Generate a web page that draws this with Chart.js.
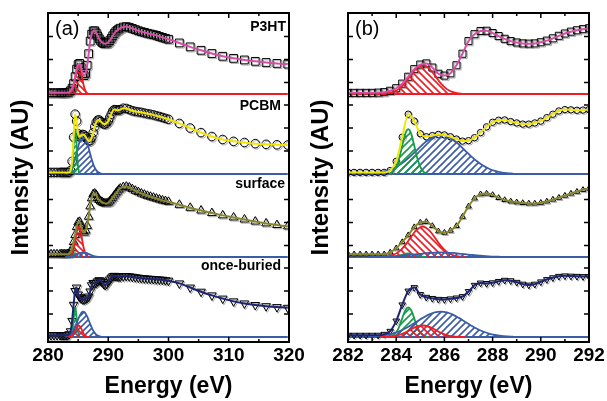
<!DOCTYPE html>
<html>
<head>
<meta charset="utf-8">
<script src="https://cdn.jsdelivr.net/npm/chart.js@4.4.0/dist/chart.umd.min.js"></script>
<style>
  html, body { margin: 0; padding: 0; background: #fff; }
  #wrap { position: relative; width: 607px; height: 401px; overflow: hidden; }
  canvas { position: absolute; top: 0; }
  #chartA { left: 0; }
  #chartB { left: 305px; }
</style>
</head>
<body>
<div id="wrap">
  <canvas id="chartA" width="305" height="401"></canvas>
  <canvas id="chartB" width="302" height="401"></canvas>
</div>
<script>
// photon energy (eV) of the measured points
var energy = [280, 280.5, 281, 281.5,
  282, 282.25, 282.5, 282.75, 283, 283.25, 283.5, 283.75, 284, 284.25, 284.5, 284.75,
  285, 285.25, 285.5, 285.75, 286, 286.25, 286.5, 286.75, 287, 287.25, 287.5, 287.75,
  288, 288.25, 288.5, 288.75, 289, 289.25, 289.5, 289.75, 290, 290.25, 290.5, 290.75,
  291, 291.25, 291.5, 291.75, 292,
  292.5, 293, 293.5, 294, 294.5, 295, 295.5, 296, 296.5, 297, 297.5, 298, 298.5, 299, 299.5, 300,
  301.8, 303.6, 305.4, 307.2, 309, 310.8, 312.6, 314.4, 316.2, 318, 319.8];

// NEXAFS intensity (AU), one list per film
var p3ht = [0.05, 0.05, 0.05, 0.05,
  0.05, 0.05, 0.05, 0.05, 0.05, 0.06, 0.08, 0.14, 0.25, 0.45, 0.75, 1.08,
  1.28, 1.33, 1.15, 0.88, 0.8, 0.9, 1.25, 1.75, 2.3, 2.6, 2.74, 2.75,
  2.65, 2.52, 2.4, 2.3, 2.24, 2.2, 2.19, 2.2, 2.25, 2.32, 2.42, 2.53,
  2.63, 2.71, 2.77, 2.82, 2.86,
  2.91, 2.93, 2.9, 2.85, 2.8, 2.75, 2.71, 2.68, 2.64, 2.61, 2.58, 2.55, 2.5, 2.46, 2.42, 2.38,
  2.22, 2.05, 1.9, 1.76, 1.64, 1.55, 1.48, 1.42, 1.37, 1.33, 1.3];
var pcbm = [0.07, 0.07, 0.07, 0.07,
  0.07, 0.07, 0.07, 0.07, 0.07, 0.07, 0.07, 0.15, 0.55, 1.6, 2.6, 2.3,
  1.75, 1.62, 1.67, 1.72, 1.7, 1.62, 1.52, 1.43, 1.45, 1.58, 1.8, 2.05,
  2.25, 2.34, 2.35, 2.28, 2.22, 2.17, 2.17, 2.22, 2.3, 2.45, 2.6, 2.74,
  2.8, 2.79, 2.77, 2.78, 2.8,
  2.86, 2.85, 2.8, 2.75, 2.72, 2.7, 2.68, 2.65, 2.62, 2.6, 2.57, 2.53, 2.5, 2.46, 2.42, 2.38,
  2.2, 2.0, 1.8, 1.63, 1.5, 1.42, 1.37, 1.32, 1.29, 1.27, 1.26];
var surface = [0.12, 0.12, 0.12, 0.12,
  0.12, 0.12, 0.12, 0.12, 0.12, 0.12, 0.12, 0.2, 0.38, 0.65, 0.95, 1.3,
  1.5, 1.53, 1.35, 1.12, 1.06, 1.15, 1.35, 1.75, 2.2, 2.55, 2.73, 2.76,
  2.7, 2.57, 2.48, 2.42, 2.38, 2.35, 2.33, 2.33, 2.36, 2.42, 2.5, 2.58,
  2.67, 2.76, 2.84, 2.92, 2.98,
  3.04, 3.06, 3.02, 2.95, 2.88, 2.82, 2.76, 2.71, 2.66, 2.62, 2.58, 2.54, 2.5, 2.46, 2.43, 2.4,
  2.27, 2.14, 2.02, 1.91, 1.81, 1.72, 1.63, 1.54, 1.46, 1.39, 1.33];
var buried = [0.08, 0.08, 0.08, 0.08,
  0.08, 0.08, 0.08, 0.08, 0.08, 0.08, 0.12, 0.25, 0.7, 1.4, 2.0, 2.15,
  1.85, 1.73, 1.68, 1.64, 1.63, 1.66, 1.7, 1.76, 1.98, 2.25, 2.35, 2.33,
  2.36, 2.42, 2.47, 2.45, 2.38, 2.3, 2.26, 2.3, 2.4, 2.5, 2.58, 2.64,
  2.66, 2.65, 2.64, 2.63, 2.63,
  2.64, 2.65, 2.64, 2.62, 2.6, 2.58, 2.56, 2.55, 2.54, 2.53, 2.52, 2.51, 2.5, 2.49, 2.47, 2.45,
  2.33, 2.15, 1.97, 1.81, 1.67, 1.55, 1.46, 1.39, 1.34, 1.3, 1.27];

// fitted peaks: energies and heights
var redEnergy = [283.35, 283.6, 283.85, 284.1, 284.35, 284.6, 284.85, 285.1, 285.35, 285.6, 285.85, 286.1, 286.35, 286.6, 286.85];
var greenEnergy = [283.7, 283.8, 283.9, 284, 284.1, 284.2, 284.3, 284.4, 284.5, 284.6, 284.7, 284.8, 284.9, 285, 285.1, 285.2, 285.3];
var blueEnergy = [282.85, 283.1, 283.35, 283.6, 283.85, 284.1, 284.35, 284.6, 284.85, 285.1, 285.35, 285.6, 285.85,
  286.1, 286.35, 286.6, 286.85, 287.1, 287.35, 287.6, 287.85, 288.1, 288.35, 288.6, 288.85];

var p3htRed = [0.005, 0.023, 0.078, 0.213, 0.463, 0.808, 1.128, 1.26, 1.128, 0.808, 0.463, 0.213, 0.078, 0.023, 0.005];
var pcbmGreen = [0.017, 0.052, 0.136, 0.306, 0.597, 1.0, 1.45, 1.81, 1.95, 1.81, 1.45, 1.0, 0.597, 0.306, 0.136, 0.052, 0.017];
var pcbmBlue = [0.019, 0.039, 0.075, 0.135, 0.23, 0.367, 0.552, 0.779, 1.031, 1.284, 1.5, 1.647, 1.7,
  1.647, 1.5, 1.284, 1.031, 0.779, 0.552, 0.367, 0.23, 0.135, 0.075, 0.039, 0.019];
var surfaceRed = [0.006, 0.024, 0.082, 0.223, 0.485, 0.846, 1.181, 1.32, 1.181, 0.846, 0.485, 0.223, 0.082, 0.024, 0.006];
var surfaceGreen = [0.001, 0.004, 0.011, 0.025, 0.049, 0.082, 0.119, 0.149, 0.16, 0.149, 0.119, 0.082, 0.049, 0.025, 0.011, 0.004, 0.001];
var surfaceBlue = [0.002, 0.005, 0.009, 0.016, 0.027, 0.043, 0.065, 0.092, 0.121, 0.151, 0.176, 0.194, 0.2,
  0.194, 0.176, 0.151, 0.121, 0.092, 0.065, 0.043, 0.027, 0.016, 0.009, 0.005, 0.002];
var buriedRed = [0.002, 0.009, 0.031, 0.085, 0.184, 0.321, 0.448, 0.5, 0.448, 0.321, 0.184, 0.085, 0.031, 0.009, 0.002];
var buriedGreen = [0.011, 0.034, 0.09, 0.2, 0.39, 0.66, 0.96, 1.2, 1.29, 1.2, 0.96, 0.66, 0.39, 0.2, 0.09, 0.034, 0.011];
var buriedBlue = [0.012, 0.025, 0.048, 0.088, 0.149, 0.238, 0.357, 0.504, 0.667, 0.831, 0.971, 1.066, 1.1,
  1.066, 0.971, 0.831, 0.667, 0.504, 0.357, 0.238, 0.149, 0.088, 0.048, 0.025, 0.012];

var sampleNames = ['P3HT', 'PCBM', 'surface', 'once-buried'];
var sampleTicks = [[0.5, 1.5, 2.5], [1, 2, 3], [0.5, 1.5, 2.5], [1, 2, 3]];

var RED = '#ee1c24', BLUE = '#3b5ca8', GREEN = '#169c4a';

var sampleValues = [p3ht, pcbm, surface, buried];
var fitColors = ['#d64fa6', '#f2e600', '#86862a', '#1c2473'];
var baseColors = [RED, BLUE, BLUE, BLUE];
var markerStyles = ['rect', 'circle', 'triangle', 'triangle'];
var markerRotation = [0, 0, 0, 180];
var samplePeaks = [
  [[redEnergy, p3htRed, RED, '\\']],
  [[greenEnergy, pcbmGreen, GREEN, '/'], [blueEnergy, pcbmBlue, BLUE, '/']],
  [[blueEnergy, surfaceBlue, BLUE, '/'], [greenEnergy, surfaceGreen, GREEN, '/'], [redEnergy, surfaceRed, RED, '\\']],
  [[redEnergy, buriedRed, RED, '\\'], [blueEnergy, buriedBlue, BLUE, '/'], [greenEnergy, buriedGreen, GREEN, '/']]
];

// each sub-panel uses its own y range so that the four spectra stack
var yMin = [-10.783, -7.304, -3.696, -0.217];
var yMax = [3.522, 7.0, 10.609, 14.087];
var nameLevel = [2.91, 2.96, 3.17, 3.09];
var nameInset = [3, 8, 4, 8];

Chart.defaults.font.family = '"Liberation Sans", Arial, sans-serif';
Chart.defaults.color = '#000';

function pts(xs, ys) {
  return xs.map(function (x, i) { return { x: x, y: ys[i] }; });
}

function hatch(ctx, color, dir, size) {
  var c = document.createElement('canvas');
  c.width = size; c.height = size;
  var g = c.getContext('2d');
  g.strokeStyle = color;
  g.lineWidth = 1.6;
  g.beginPath();
  if (dir === '/') {
    g.moveTo(0, size); g.lineTo(size, 0);
    g.moveTo(-1, 1); g.lineTo(1, -1);
    g.moveTo(size - 1, size + 1); g.lineTo(size + 1, size - 1);
  } else {
    g.moveTo(0, 0); g.lineTo(size, size);
    g.moveTo(-1, size - 1); g.lineTo(1, size + 1);
    g.moveTo(size - 1, -1); g.lineTo(size + 1, 1);
  }
  g.stroke();
  return ctx.createPattern(c, 'repeat');
}

var shadowPlugin = {
  id: 'markerShadow',
  beforeDatasetDraw: function (chart, args) {
    if (!chart.data.datasets[args.index].markerShadow) return;
    var c = chart.ctx;
    c.save();
    c.shadowColor = 'rgba(120,120,120,0.6)';
    c.shadowOffsetX = 1.2;
    c.shadowOffsetY = 1.2;
    c.shadowBlur = 0.5;
  },
  afterDatasetDraw: function (chart, args) {
    if (chart.data.datasets[args.index].markerShadow) chart.ctx.restore();
  }
};

var framePlugin = {
  id: 'frame',
  afterDraw: function (chart, args, opts) {
    var ctx = chart.ctx, a = chart.chartArea, x = chart.scales.x;
    ctx.save();
    ctx.strokeStyle = '#000';
    ctx.lineWidth = 1.5;
    ctx.beginPath();
    for (var v = x.min; v <= x.max + 1e-6; v += opts.minor) {
      var px = x.getPixelForValue(v);
      var major = Math.abs((v - x.min) / opts.major - Math.round((v - x.min) / opts.major)) < 1e-6;
      var len = major ? 5 : 3;
      ctx.moveTo(px, a.bottom); ctx.lineTo(px, a.bottom - len);
      ctx.moveTo(px, a.top); ctx.lineTo(px, a.top + len);
    }
    sampleNames.forEach(function (n, i) {
      var s = chart.scales['y' + i];
      sampleTicks[i].forEach(function (t) {
        var py = s.getPixelForValue(t);
        ctx.moveTo(a.left, py); ctx.lineTo(a.left + 5, py);
        ctx.moveTo(a.right, py); ctx.lineTo(a.right - 5, py);
      });
    });
    ctx.stroke();
    ctx.lineWidth = 2;
    ctx.strokeRect(a.left, a.top, a.right - a.left, a.bottom - a.top);

    ctx.fillStyle = '#000';
    ctx.textBaseline = 'middle';
    ctx.textAlign = 'left';
    ctx.font = '20px "Liberation Sans", Arial, sans-serif';
    ctx.fillText(opts.label, a.left + 7, a.top + 16);
    if (opts.names) {
      ctx.textAlign = 'right';
      ctx.font = 'bold 14px "Liberation Sans", Arial, sans-serif';
      sampleNames.forEach(function (n, i) {
        var s = chart.scales['y' + i];
        ctx.fillText(n, a.right - nameInset[i], s.getPixelForValue(nameLevel[i]));
      });
    }
    ctx.restore();
  }
};

function makeChart(id, panel) {
  var canvas = document.getElementById(id);
  var ctx = canvas.getContext('2d');
  var datasets = [];
  sampleNames.forEach(function (name, i) {
    var yId = 'y' + i;
    datasets.push({
      data: [{ x: energy[0], y: 0 }, { x: energy[energy.length - 1], y: 0 }],
      yAxisID: yId, borderColor: baseColors[i], borderWidth: 2, pointRadius: 0, order: 6
    });
    datasets.push({
      data: pts(energy, sampleValues[i]), yAxisID: yId, showLine: false,
      pointStyle: markerStyles[i], pointRotation: markerRotation[i], pointRadius: panel.marker[i],
      pointBorderColor: '#000', pointBackgroundColor: 'rgba(0,0,0,0)', pointBorderWidth: 1,
      order: 5, markerShadow: true
    });
    samplePeaks[i].forEach(function (p) {
      datasets.push({
        data: pts(p[0], p[1]), yAxisID: yId, borderColor: p[2], borderWidth: 1.8,
        pointRadius: 0, tension: 0.4, fill: 'origin',
        backgroundColor: hatch(ctx, p[2], p[3], panel.hatch), order: 3
      });
    });
    datasets.push({
      data: pts(energy, sampleValues[i]), yAxisID: yId, borderColor: fitColors[i], borderWidth: 2,
      pointRadius: 0, cubicInterpolationMode: 'monotone', order: 1
    });
  });

  var scales = {
    x: {
      type: 'linear', min: panel.xMin, max: panel.xMax,
      grid: { display: false, drawTicks: false }, border: { display: false },
      ticks: { stepSize: panel.step, padding: 2, font: { size: 19, weight: 'bold' } },
      title: { display: true, text: 'Energy (eV)', font: { size: 23, weight: 'bold' }, padding: { top: 0, bottom: 1 } },
      afterFit: function (s) { s.height = 59; s.paddingLeft = 0; s.paddingRight = 0; }
    },
    yt: {
      position: 'left', min: 0, max: 1,
      ticks: { display: false }, grid: { display: false }, border: { display: false },
      title: { display: true, text: 'Intensity (AU)', font: { size: 24, weight: 'bold' }, padding: { top: panel.titlePad, bottom: 0 } },
      afterFit: function (s) { s.width = panel.left; }
    }
  };
  sampleNames.forEach(function (n, i) {
    scales['y' + i] = { type: 'linear', display: false, min: yMin[i], max: yMax[i] };
  });

  return new Chart(ctx, {
    type: 'line',
    data: { datasets: datasets },
    options: {
      responsive: false,
      animation: false,
      devicePixelRatio: 1,
      events: [],
      layout: { padding: panel.padding },
      scales: scales,
      plugins: {
        legend: { display: false },
        tooltip: { enabled: false },
        frame: { label: panel.label, names: panel.names, major: panel.step, minor: panel.minor }
      }
    },
    plugins: [shadowPlugin, framePlugin]
  });
}

makeChart('chartA', {
  xMin: 280, xMax: 320, step: 10, minor: 5, left: 48, titlePad: 7,
  padding: { left: 0, top: 13, right: 16, bottom: 0 },
  marker: [5.5, 4.3, 5, 5], hatch: 6, label: '(a)', names: true
});
makeChart('chartB', {
  xMin: 282, xMax: 292, step: 2, minor: 1, left: 43, titlePad: 1.6,
  padding: { left: 0, top: 13, right: 18, bottom: 0 },
  marker: [5, 3.2, 3.2, 3.8], hatch: 7, label: '(b)', names: false
});
</script>
</body>
</html>
